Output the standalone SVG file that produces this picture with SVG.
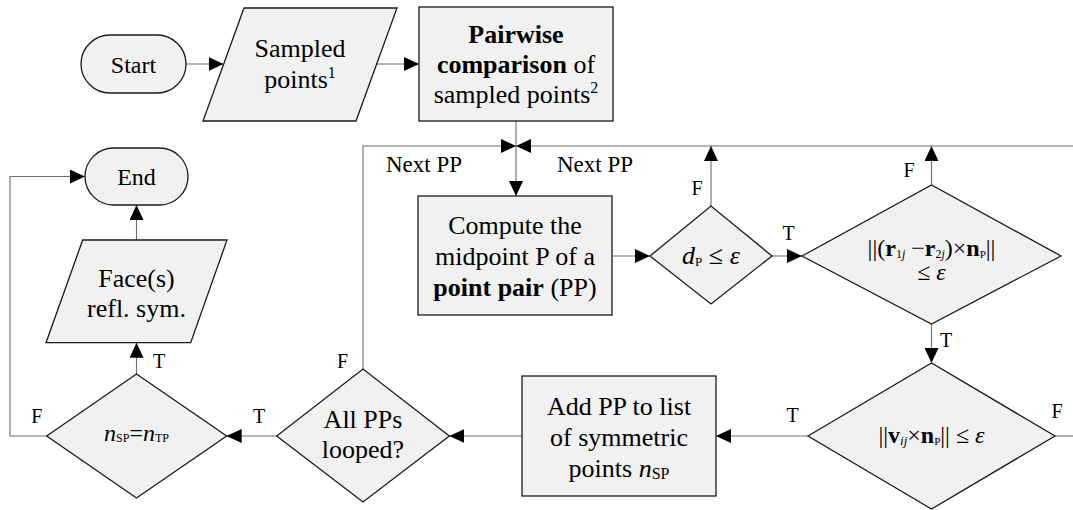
<svg xmlns="http://www.w3.org/2000/svg" width="1073" height="510" viewBox="0 0 1073 510">
<style>
text{font-family:"Liberation Serif","Times New Roman",serif;fill:#000}
.t{font-size:26px;text-anchor:middle}
.s{font-size:24px;text-anchor:middle}
.lb{font-size:20px;text-anchor:middle}
.np{font-size:23px}
.shape{fill:#f1f1f1;stroke:#1a1a1a;stroke-width:1.3}
.c{fill:none;stroke:#6e6e6e;stroke-width:1.1}
.b{font-weight:bold}
.i{font-style:italic}
</style>
<defs>
<marker id="ah" markerUnits="userSpaceOnUse" markerWidth="15" markerHeight="14" refX="15" refY="7" orient="auto">
<path d="M0,0 L15,7 L0,14 Z" fill="#000"/>
</marker>
</defs>
<rect width="1073" height="510" fill="#fff"/>
<g id="connectors">
<line class="c" x1="186" y1="64" x2="223.5" y2="64" marker-end="url(#ah)"/>
<line class="c" x1="376.7" y1="64" x2="419" y2="64" marker-end="url(#ah)"/>
<line class="c" x1="516" y1="121" x2="516" y2="196" marker-end="url(#ah)"/>
<polyline class="c" points="363,369 363,146 516,146" marker-end="url(#ah)"/>
<line class="c" x1="1073" y1="146" x2="516" y2="146" marker-end="url(#ah)"/>
<line class="c" x1="612" y1="256" x2="650" y2="256" marker-end="url(#ah)"/>
<line class="c" x1="711" y1="206" x2="711" y2="146" marker-end="url(#ah)"/>
<line class="c" x1="772" y1="256" x2="802" y2="256" marker-end="url(#ah)"/>
<line class="c" x1="931.5" y1="185" x2="931.5" y2="146" marker-end="url(#ah)"/>
<line class="c" x1="931.5" y1="324" x2="931.5" y2="363" marker-end="url(#ah)"/>
<line class="c" x1="1055" y1="436" x2="1073" y2="436"/>
<line class="c" x1="808" y1="436" x2="716" y2="436" marker-end="url(#ah)"/>
<line class="c" x1="522" y1="436" x2="449.3" y2="436" marker-end="url(#ah)"/>
<line class="c" x1="276.7" y1="436" x2="226.7" y2="436" marker-end="url(#ah)"/>
<line class="c" x1="136.5" y1="374" x2="136.5" y2="342.7" marker-end="url(#ah)"/>
<polyline class="c" points="46.7,436 10,436 10,176.5 85,176.5" marker-end="url(#ah)"/>
<line class="c" x1="136.5" y1="240" x2="136.5" y2="205" marker-end="url(#ah)"/>
<text class="np" x="386" y="172">Next PP</text>
<text class="np" x="557" y="172">Next PP</text>
<text class="lb" x="697" y="195">F</text>
<text class="lb" x="788.5" y="240">T</text>
<text class="lb" x="909" y="177">F</text>
<text class="lb" x="946" y="347">T</text>
<text class="lb" x="1057" y="418">F</text>
<text class="lb" x="792.5" y="422">T</text>
<text class="lb" x="259" y="423">T</text>
<text class="lb" x="342.5" y="368">F</text>
<text class="lb" x="36.7" y="423">F</text>
<text class="lb" x="159" y="368">T</text>
</g>
<g id="start">
<rect class="shape" x="81" y="35" width="105" height="58" rx="29"/>
<text class="s" x="133.5" y="72.5">Start</text>
</g>
<g id="sampled">
<polygon class="shape" points="244,8 397,8 356,121 203,121"/>
<text class="t" x="300" y="57">Sampled</text>
<text class="t" x="300" y="88">points<tspan font-size="16" dy="-10">1</tspan></text>
</g>
<g id="pairwise">
<rect class="shape" x="419" y="7" width="194" height="114"/>
<text class="t b" x="516" y="43">Pairwise</text>
<text class="t" x="516" y="73"><tspan class="b">comparison</tspan> of</text>
<text class="t" x="516" y="103">sampled points<tspan font-size="16" dy="-10">2</tspan></text>
</g>
<g id="compute">
<rect class="shape" x="418" y="196" width="194" height="119"/>
<text class="t" x="515" y="234">Compute the</text>
<text class="t" x="515" y="265">midpoint P of a</text>
<text class="t" x="515" y="296"><tspan class="b">point pair</tspan> (PP)</text>
</g>
<g id="dp">
<polygon class="shape" points="650,256 711,206 772,256 711,304"/>
<text class="t" x="711" y="264"><tspan class="i">d</tspan><tspan font-size="13" dy="2">P</tspan><tspan dy="-2"> ≤ </tspan><tspan class="i">ε</tspan></text>
</g>
<g id="cross">
<polygon class="shape" points="802,256 931.5,185 1061,256 931.5,324"/>
<text class="s" x="931.5" y="256">||(<tspan class="b">r</tspan><tspan font-size="12" dy="2">1<tspan class="i">j</tspan></tspan><tspan dy="-2"> −</tspan><tspan class="b">r</tspan><tspan font-size="12" dy="2">2<tspan class="i">j</tspan></tspan><tspan dy="-2">)×</tspan><tspan class="b">n</tspan><tspan font-size="11" dy="2">P</tspan><tspan dy="-2">||</tspan></text>
<text class="s" x="931.5" y="280">≤ <tspan class="i">ε</tspan></text>
</g>
<g id="vcross">
<polygon class="shape" points="808,436 931.5,363 1055,436 931.5,509"/>
<text class="s" x="931.5" y="443">||<tspan class="b">v</tspan><tspan class="i" font-size="13" dy="2">ij</tspan><tspan dy="-2">×</tspan><tspan class="b">n</tspan><tspan font-size="11" dy="2">P</tspan><tspan dy="-2">|| ≤ </tspan><tspan class="i">ε</tspan></text>
</g>
<g id="add">
<rect class="shape" x="522" y="376" width="194" height="120"/>
<text class="t" x="619" y="415">Add PP to list</text>
<text class="t" x="619" y="446">of symmetric</text>
<text class="t" x="619" y="477">points <tspan class="i">n</tspan><tspan font-size="16" dy="2">SP</tspan></text>
</g>
<g id="allpps">
<polygon class="shape" points="276.7,436 363,369 449.3,436 363,502"/>
<text class="t" x="363" y="428">All PPs</text>
<text class="t" x="363" y="458">looped?</text>
</g>
<g id="nsp">
<polygon class="shape" points="46.7,436 136.5,374 226.7,436 136.5,498"/>
<text class="s" x="136.5" y="441"><tspan class="i">n</tspan><tspan font-size="12" dy="1">SP</tspan><tspan dy="-1">=</tspan><tspan class="i">n</tspan><tspan font-size="12" dy="1">TP</tspan></text>
</g>
<g id="face">
<polygon class="shape" points="82.7,240 227,240 190.7,342.7 46,342.7"/>
<text class="t" x="136.5" y="287">Face(s)</text>
<text class="t" x="136.5" y="317">refl. sym.</text>
</g>
<g id="end">
<rect class="shape" x="85" y="148" width="103" height="57" rx="28.5"/>
<text class="s" x="136.5" y="185">End</text>
</g>
</svg>
